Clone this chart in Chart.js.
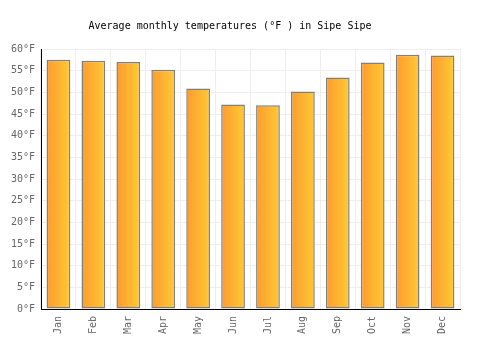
<!DOCTYPE html>
<html>
<head>
<meta charset="utf-8">
<script src="https://cdn.jsdelivr.net/npm/chart.js@4/dist/chart.umd.min.js"></script>
<style>
  html, body { margin: 0; padding: 0; background: #fff; }
  #wrap { width: 500px; height: 350px; }
</style>
</head>
<body>
<div id="wrap"><canvas id="chart" width="500" height="350"></canvas></div>
<script>
// Données
const months = ['Jan', 'Feb', 'Mar', 'Apr', 'May', 'Jun', 'Jul', 'Aug', 'Sep', 'Oct', 'Nov', 'Dec'];
const tempsF = [57.5, 57.3, 57.0, 55.2, 50.9, 47.2, 47.0, 50.2, 53.4, 56.9, 58.7, 58.5];
const yTicks = [0, 5, 10, 15, 20, 25, 30, 35, 40, 45, 50, 55, 60];

const monoFont = '"DejaVu Sans Mono", monospace';

// Dégradé horizontal pour chaque barre
function barGradient(context) {
    const chart = context.chart;
    const xScale = chart.scales.x;
    if (!chart.chartArea || !xScale || context.dataIndex === undefined) {
        return '#ffb030';
    }
    const cx = xScale.getPixelForValue(context.dataIndex);
    const half = 12;
    const g = chart.ctx.createLinearGradient(cx - half, 0, cx + half, 0);
    g.addColorStop(0, '#ff9a2e');
    g.addColorStop(1, '#ffcb35');
    return g;
}

new Chart(document.getElementById('chart'), {
    type: 'bar',
    data: {
        labels: months,
        datasets: [{
            data: tempsF,
            backgroundColor: barGradient,
            borderColor: '#808080',
            borderWidth: 1.5,
            borderSkipped: false,
            barPercentage: 0.68,
            categoryPercentage: 1.0
        }]
    },
    options: {
        responsive: false,
        animation: false,
        devicePixelRatio: 1,
        layout: { padding: { left: 0, right: 40, top: 0, bottom: 0 } },
        plugins: {
            legend: { display: false },
            tooltip: { enabled: false },
            title: {
                display: true,
                text: 'Average monthly temperatures (°F ) in Sipe Sipe',
                color: '#000',
                font: { family: monoFont, size: 10, weight: 'normal' },
                padding: { top: 20, bottom: 17 }
            }
        },
        scales: {
            x: {
                grid: { color: '#eeeeee', drawTicks: false, offset: true },
                border: { color: '#000', width: 1 },
                ticks: {
                    color: '#666',
                    font: { family: monoFont, size: 10 },
                    minRotation: 90,
                    maxRotation: 90,
                    padding: 7
                },
                afterFit: function(scale) { scale.height = 41; }
            },
            y: {
                min: 0,
                max: 60,
                afterBuildTicks: function(scale) {
                    scale.ticks = yTicks.map(v => ({ value: v }));
                },
                grid: { color: '#eeeeee', drawTicks: false },
                border: { color: '#000', width: 1 },
                ticks: {
                    color: '#666',
                    font: { family: monoFont, size: 10 },
                    padding: 6,
                    callback: v => v + '°F'
                },
                afterFit: function(scale) { scale.width = 41; }
            }
        }
    }
});
</script>
</body>
</html>
